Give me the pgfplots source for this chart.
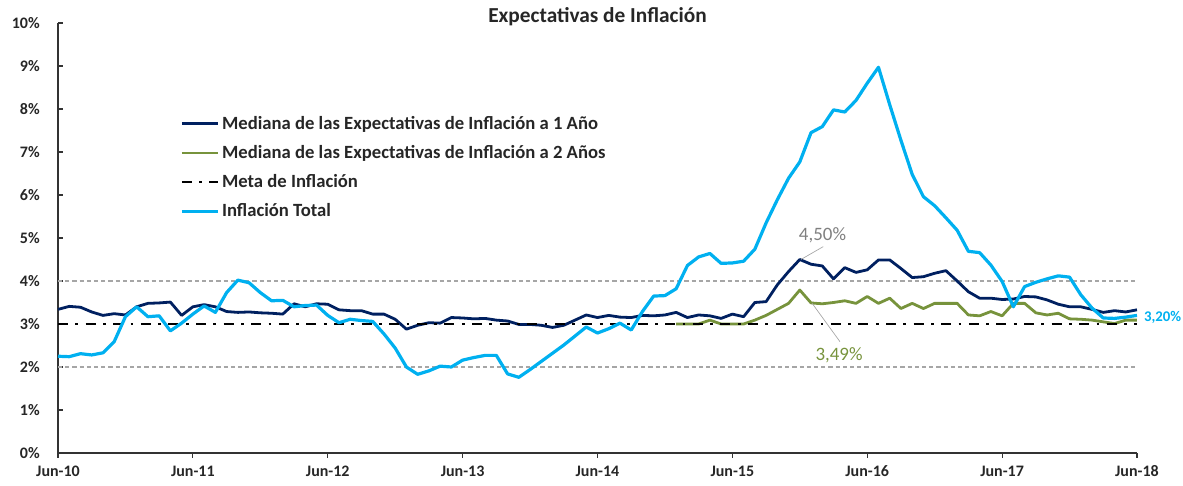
\documentclass[border=0pt]{standalone}
\usepackage{fontspec}
\setmainfont{Carlito}
\usepackage{pgfplots}
\pgfplotsset{compat=1.18}
\definecolor{navy}{HTML}{002060}
\definecolor{olive}{HTML}{77933C}
\definecolor{sky}{HTML}{00B0F0}
\definecolor{bandgray}{HTML}{A6A6A6}
\definecolor{txt}{HTML}{262626}
\definecolor{annot}{HTML}{7F7F7F}

\pgfplotstableread{
m infl e1
0 2.25 3.34
1 2.24 3.41
2 2.31 3.39
3 2.28 3.28
4 2.33 3.20
5 2.59 3.24
6 3.17 3.21
7 3.40 3.40
8 3.17 3.48
9 3.19 3.49
10 2.84 3.51
11 3.02 3.20
12 3.23 3.40
13 3.42 3.45
14 3.27 3.40
15 3.73 3.29
16 4.02 3.27
17 3.96 3.28
18 3.73 3.26
19 3.54 3.25
20 3.55 3.23
21 3.40 3.47
22 3.43 3.40
23 3.44 3.47
24 3.20 3.46
25 3.03 3.33
26 3.11 3.31
27 3.08 3.31
28 3.06 3.23
29 2.77 3.23
30 2.44 3.11
31 2.00 2.88
32 1.83 2.97
33 1.91 3.03
34 2.02 3.02
35 2.00 3.15
36 2.16 3.14
37 2.22 3.12
38 2.27 3.13
39 2.27 3.09
40 1.84 3.07
41 1.76 2.99
42 1.94 2.99
43 2.13 2.97
44 2.32 2.92
45 2.51 2.97
46 2.72 3.09
47 2.93 3.21
48 2.79 3.15
49 2.89 3.20
50 3.02 3.16
51 2.86 3.15
52 3.29 3.20
53 3.65 3.19
54 3.66 3.21
55 3.82 3.27
56 4.36 3.15
57 4.56 3.21
58 4.64 3.19
59 4.41 3.13
60 4.42 3.23
61 4.46 3.17
62 4.74 3.50
63 5.35 3.52
64 5.89 3.91
65 6.39 4.22
66 6.77 4.50
67 7.45 4.39
68 7.59 4.35
69 7.98 4.05
70 7.93 4.31
71 8.20 4.20
72 8.60 4.26
73 8.97 4.49
74 8.10 4.49
75 7.27 4.29
76 6.48 4.08
77 5.96 4.10
78 5.75 4.18
79 5.47 4.24
80 5.18 4.00
81 4.69 3.75
82 4.66 3.60
83 4.37 3.60
84 3.99 3.57
85 3.40 3.58
86 3.87 3.64
87 3.97 3.63
88 4.05 3.56
89 4.12 3.46
90 4.09 3.40
91 3.68 3.40
92 3.37 3.34
93 3.14 3.27
94 3.13 3.31
95 3.16 3.28
96 3.20 3.33
}\maintable

\pgfplotstableread{
m e2
55 3.00
56 3.00
57 3.00
58 3.09
59 3.00
60 3.00
61 3.00
62 3.09
63 3.20
64 3.34
65 3.48
66 3.79
67 3.49
68 3.47
69 3.50
70 3.54
71 3.48
72 3.64
73 3.48
74 3.60
75 3.36
76 3.48
77 3.36
78 3.48
79 3.48
80 3.48
81 3.21
82 3.19
83 3.29
84 3.19
85 3.48
86 3.48
87 3.26
88 3.21
89 3.25
90 3.12
91 3.11
92 3.09
93 3.05
94 3.01
95 3.09
96 3.09
}\twotable

\begin{document}
\begin{tikzpicture}
\path[use as bounding box] (0,0) rectangle (887.25pt,364.5pt);
\begin{axis}[
  at={(43.5pt,24.75pt)}, anchor=south west,
  scale only axis, width=809.25pt, height=322.5pt,
  xmin=0, xmax=96, ymin=0, ymax=10,
  clip=false,
  axis lines*=left,
  axis line style={color=black!80, line width=0.8pt},
  xtick={0,12,...,96},
  xticklabels={Jun-10,Jun-11,Jun-12,Jun-13,Jun-14,Jun-15,Jun-16,Jun-17,Jun-18},
  ytick={0,1,...,10},
  yticklabels={0\%,1\%,2\%,3\%,4\%,5\%,6\%,7\%,8\%,9\%,10\%},
  xtick align=outside, ytick align=inside,
  major tick length=3.5pt,
  tick style={color=black!80, line width=0.8pt},
  ticklabel style={font=\bfseries\fontsize{12}{14}\selectfont, text=txt},
  yticklabel style={anchor=east, inner sep=0pt, xshift=-13.5pt},
  xticklabel style={anchor=north, inner sep=0pt, yshift=-6pt},
  legend cell align=left,
  legend image code/.code={\draw[#1, line cap=butt] (0pt,0pt) -- (27pt,0pt);},
  legend style={draw=none, fill=none, font=\bfseries\fontsize{14}{16}\selectfont,
    text=txt, at={(axis cs:10.85,7.90)}, anchor=north west, row sep=6.5pt,
    inner sep=0pt},
]
\addplot[bandgray, line width=1.2pt, dash pattern=on 3.2pt off 2.2pt, forget plot] coordinates {(0,2) (96,2)};
\addplot[bandgray, line width=1.2pt, dash pattern=on 3.2pt off 2.2pt, forget plot] coordinates {(0,4) (96,4)};
\addplot[navy, line width=2.1pt, line join=round] table[x=m, y=e1] {\maintable};
\addlegendentry{Mediana de las Expectativas de Inflación a 1 Año}
\addplot[olive, line width=2.1pt, line join=round] table[x=m, y=e2] {\twotable};
\addlegendentry{Mediana de las Expectativas de Inflación a 2 Años}
\addplot[black, line width=2.1pt, line cap=butt, dash pattern=on 7.5pt off 5.6pt on 2pt off 5.6pt] coordinates {(0,3) (96,3)};
\addlegendentry{Meta de Inflación}
\addplot[sky, line width=2.4pt, line join=round] table[x=m, y=infl] {\maintable};
\addlegendentry{Inflación Total}
\node[font=\bfseries\fontsize{16}{18}\selectfont, text=txt, anchor=base] at (rel axis cs:0.5,1) [yshift=0.5pt] {Expectativas de Inflación};
\draw[annot!70, line width=0.5pt] (axis cs:68.09,4.80) -- (axis cs:66.1,4.50);
\node[font=\fontsize{14.2}{16}\selectfont, text=annot] at (axis cs:68.02,5.07) {4,50\%};
\draw[annot!70, line width=0.5pt] (axis cs:67.1,3.48) -- (axis cs:69.57,2.59);
\node[font=\fontsize{14.2}{16}\selectfont, text=olive] at (axis cs:69.49,2.28) {3,49\%};
\node[font=\bfseries\fontsize{11.1}{13}\selectfont, text=sky, anchor=west, inner sep=0pt] at (axis cs:96.6,3.16) {3,20\%};
\end{axis}
\end{tikzpicture}
\end{document}
